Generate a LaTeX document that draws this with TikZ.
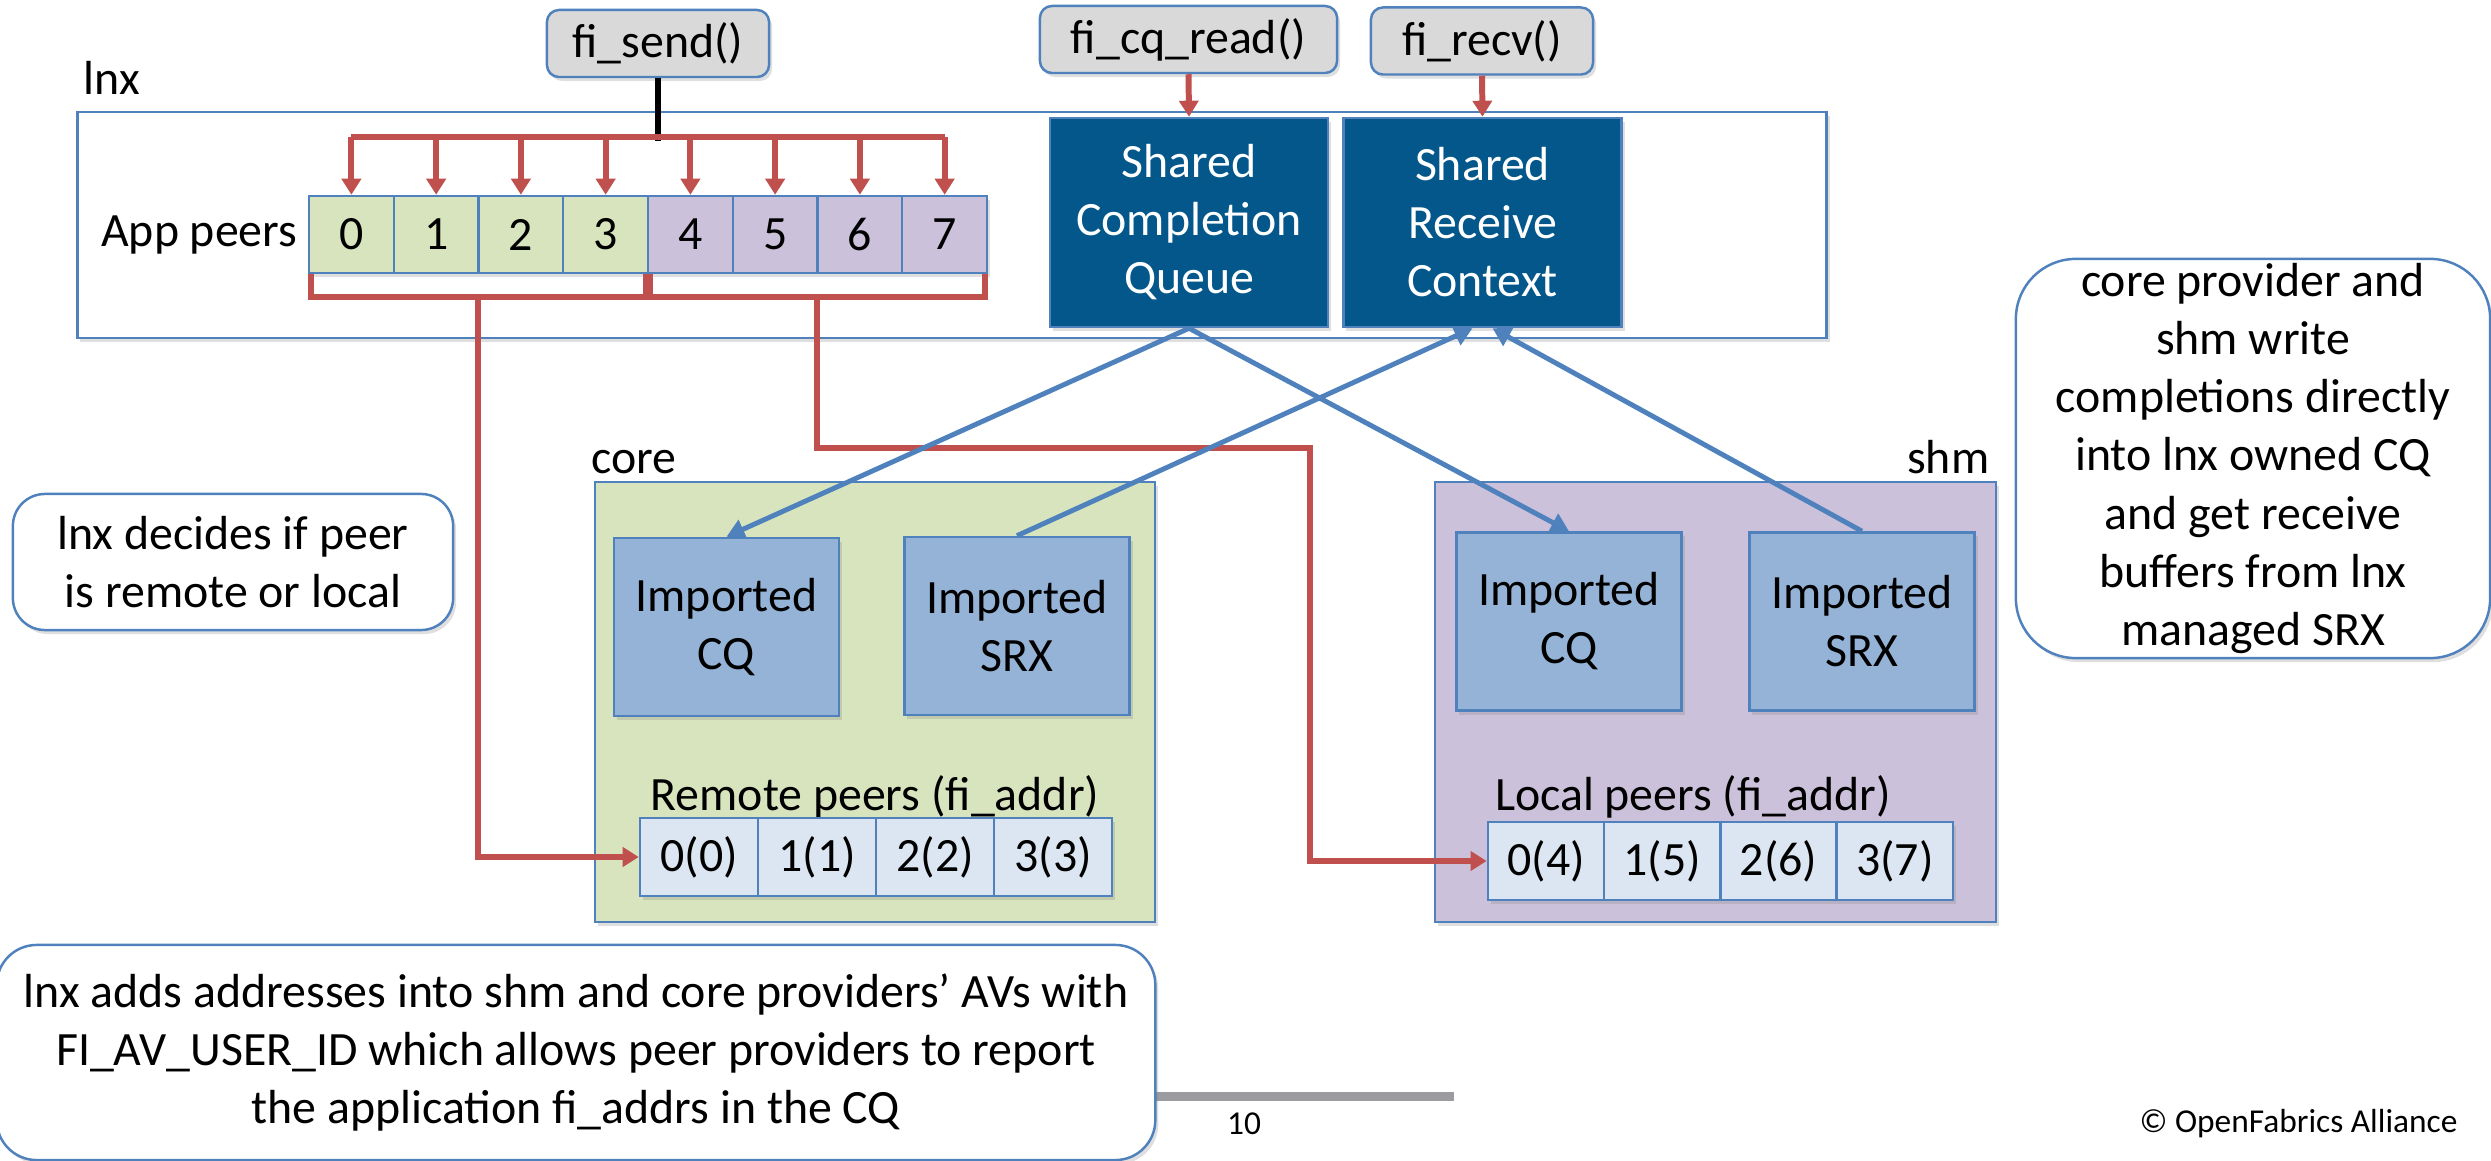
\documentclass[tikz,border=0pt]{standalone}
\usepackage{fontspec}
\setmainfont{Carlito}
\usetikzlibrary{arrows.meta,shadows}

\definecolor{lnxblue}{RGB}{79,129,189}
\definecolor{pptred}{RGB}{192,80,77}
\definecolor{fngray}{RGB}{217,217,217}
\definecolor{sharedblue}{RGB}{3,87,138}
\definecolor{impblue}{RGB}{149,179,215}
\definecolor{avblue}{RGB}{220,230,242}
\definecolor{coregreen}{RGB}{215,228,189}
\definecolor{shmpurple}{RGB}{204,193,218}
\definecolor{footgray}{RGB}{155,155,160}

\begin{document}
\begin{tikzpicture}[x=0.01cm,y=-0.01cm,
    font=\fontsize{13.6}{16.5}\selectfont,
    edge/.style={draw=lnxblue,line width=0.7pt},
    softshadow/.style={drop shadow={opacity=0.25,shadow xshift=0.03cm,shadow yshift=-0.04cm}},
    fnbox/.style={edge,fill=fngray,rounded corners=0.12cm,minimum height=0.67cm,inner sep=0,softshadow},
    sharedbox/.style={edge,fill=sharedblue,text=white,align=center,minimum width=2.78cm,minimum height=2.09cm,inner sep=0,softshadow},
    impbox/.style={edge,fill=impblue,align=center,minimum width=2.25cm,minimum height=1.78cm,inner sep=0,softshadow},
    appcell/.style={edge,minimum width=0.8475cm,minimum height=0.77cm,inner sep=0,softshadow},
    avcell/.style={edge,fill=avblue,minimum height=0.78cm,inner sep=0,softshadow},
    provbox/.style={edge,minimum height=4.4cm,softshadow},
    note/.style={edge,fill=white,align=center,inner sep=0,softshadow},
    redline/.style={draw=pptred,line width=1.7pt},
    redarrow/.style={redline,-{Triangle[length=0.16cm,width=0.19cm]}},
    bluearrow/.style={draw=lnxblue,line width=1.4pt,-{Triangle[length=0.18cm,width=0.2cm]}}]
    \useasboundingbox (0,0) rectangle (2491,1161);

    % lnx
    \node[anchor=base west,inner sep=0] (lnxlabel) at (83,95) {lnx};
    \node[edge,fill=white,minimum width=17.48cm,minimum height=2.26cm,softshadow] (lnx) at (952,225) {};

    % calls from the application
    \node[fnbox,minimum width=2.22cm] (send) at (658,43.5) {fi\_send()};
    \node[fnbox,minimum width=2.97cm] (cqread) at (1188.5,39.5) {fi\_cq\_read()};
    \node[fnbox,minimum width=2.22cm] (recv) at (1482,41) {fi\_recv()};

    % shared objects
    \node[sharedbox] (scq) at (1189,222.5) {Shared\\Completion\\Queue};
    \node[sharedbox] (srx) at (1482.5,222.5) {Shared\\Receive\\Context};

    % app peers
    \node[anchor=east,inner sep=0] (applabel) at (298,235) {App peers};
    \foreach \i in {0,...,3}
        \node[appcell,fill=coregreen] (p\i) at ({351.4+84.75*\i},234.5) {\i};
    \foreach \i in {4,...,7}
        \node[appcell,fill=shmpurple] (p\i) at ({351.4+84.75*\i},234.5) {\i};

    % core
    \node[anchor=base west,inner sep=0] (corelabel) at (591,474) {core};
    \node[provbox,fill=coregreen,minimum width=5.6cm] (core) at (875,702) {};
    \node[impbox] (ccq) at (726.5,627) {Imported\\CQ};
    \node[impbox] (csrx) at (1017,626) {Imported\\SRX};
    \node (remlabel) at (875,797) {Remote peers (fi\_addr)};
    \foreach \i in {0,...,3}
        \node[avcell,minimum width=1.18cm] (r\i) at ({699+118*\i},857) {\i(\i)};

    % shm
    \node[anchor=base east,inner sep=0] (shmlabel) at (1990,474) {shm};
    \node[provbox,fill=shmpurple,minimum width=5.61cm] (shm) at (1715.5,702) {};
    \node[impbox] (scqi) at (1569,621.5) {Imported\\CQ};
    \node[impbox] (ssrx) at (1862,621.5) {Imported\\SRX};
    \node (loclabel) at (1693,797) {Local peers (fi\_addr)};
    \foreach \i/\j in {0/4,1/5,2/6,3/7}
        \node[avcell,minimum width=1.1625cm] (l\i) at ({1546+116.25*\i},861) {\i(\j)};

    % notes
    \node[note,rounded corners=0.32cm,minimum width=4.4cm,minimum height=1.36cm] (decide) at (233,562)
        {lnx decides if peer\\is remote or local};
    \node[note,rounded corners=0.6cm,minimum width=4.74cm,minimum height=3.99cm] (owned) at (2253,458.5)
        {core provider and\\shm write\\completions directly\\into lnx owned CQ\\and get receive\\buffers from lnx\\managed SRX};
    \fill[footgray] (1155,1092) rectangle (1454,1101);
    \node[note,rounded corners=0.4cm,minimum width=11.58cm,minimum height=2.15cm] (adds) at (576,1052.5)
        {lnx adds addresses into shm and core providers’ AVs with\\FI\_AV\_USER\_ID which allows peer providers to report\\the application fi\_addrs in the CQ};

    % footer
    \node[font=\fontsize{9.5}{11}\selectfont] (pagenum) at (1244,1124) {10};
    \node[font=\fontsize{9.5}{11}\selectfont,anchor=east] (copyright) at (2470,1124) {© OpenFabrics Alliance};

    % fi_send fans out to every peer
    \coordinate (bar) at (658,137);
    \draw[line width=1.7pt] (send.south) -- ([yshift=-0.04cm]bar);
    \draw[redline] (p0.north |- bar) -- (p7.north |- bar);
    \foreach \i in {0,...,7}
        \draw[redarrow] (p\i.north |- bar) -- (p\i.north);

    % remote and local groups
    \draw[redline] ([xshift=0.03cm]p0.south west) -- ++(0,23) -| ([xshift=-0.03cm]p3.south east);
    \draw[redline] ([xshift=0.03cm]p4.south west) -- ++(0,23) -| ([xshift=-0.03cm]p7.south east);
    \coordinate (remfork) at (478,296);
    \coordinate (locfork) at (817,296);
    \draw[redarrow] (remfork) |- (r0.west);
    \draw[redarrow] (locfork) |- (1310,448) |- (l0.west);

    % calls into the shared objects
    \draw[redarrow] (cqread.south) -- (scq.north);
    \draw[redarrow] (recv.south) -- (srx.north);

    % imported objects
    \draw[bluearrow] (scq.south) -- (ccq.north);
    \draw[bluearrow] (scq.south) -- (scqi.north);
    \draw[bluearrow] (csrx.north) -- ([xshift=-0.1cm]srx.south);
    \draw[bluearrow] (ssrx.north) -- ([xshift=0.1cm]srx.south);
\end{tikzpicture}
\end{document}
